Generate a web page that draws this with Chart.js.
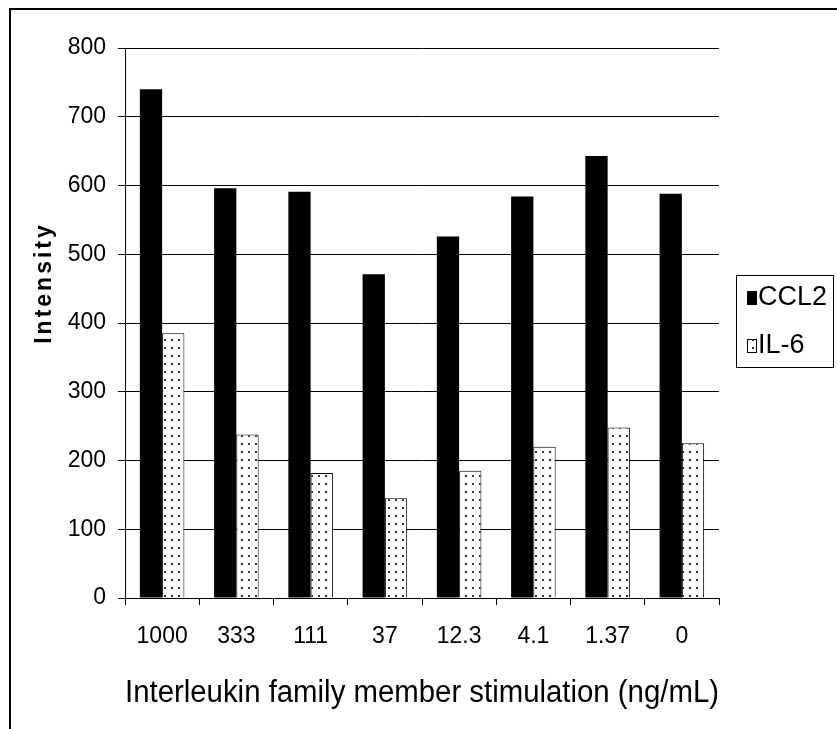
<!DOCTYPE html>
<html>
<head>
<meta charset="utf-8">
<script src="https://cdn.jsdelivr.net/npm/chart.js@4.4.1/dist/chart.umd.min.js"></script>
<style>
html,body{margin:0;padding:0;background:#fff;}
#wrap{position:relative;width:837px;height:729px;}
canvas{display:block;}
</style>
</head>
<body>
<div id="wrap"><canvas id="c" width="837" height="729"></canvas></div>
<script>
// ---- data ----
const categories = ['1000', '333', '111', '37', '12.3', '4.1', '1.37', '0'];
const ccl2Values = [740, 596, 591, 471, 526, 584, 643, 588];
const il6Values = [385, 238, 182, 145, 185, 220, 248, 225];
const seriesNames = ['CCL2', 'IL-6'];
const yMin = 0, yMax = 800, yStep = 100;
const xTitle = 'Interleukin family member stimulation (ng/mL)';
const yTitle = 'Intensity';

// dotted fill pattern for IL-6
function makeDots() {
  const c = document.createElement('canvas');
  c.width = 7; c.height = 8;
  const g = c.getContext('2d');
  g.fillStyle = '#fff'; g.fillRect(0, 0, 7, 8);
  g.fillStyle = '#333'; g.fillRect(3, 3, 2, 2);
  return g.createPattern(c, 'repeat');
}
const ctx = document.getElementById('c').getContext('2d');
const dots = makeDots();

const framePlugin = {
  id: 'frame',
  beforeDraw(chart) {
    const c = chart.ctx;
    c.save();
    c.fillStyle = '#fff';
    c.fillRect(0, 0, chart.width, chart.height);
    c.strokeStyle = '#000';
    c.lineWidth = 2;
    c.beginPath();
    c.moveTo(10, chart.height);
    c.lineTo(10, 9);
    c.lineTo(chart.width, 9);
    c.stroke();
    c.restore();
    // letter-spaced y axis title, shifted up as in the reference
    const s = chart.scales.y;
    if (s && !s.__patched) {
      const orig = s.drawTitle;
      s.drawTitle = function () {
        const k = this.ctx;
        k.save();
        k.letterSpacing = '3px';
        k.translate(0, -40);
        orig.call(this);
        k.restore();
      };
      s.__patched = true;
    }
  }
};

const legendPlugin = {
  id: 'boxLegend',
  afterDraw(chart) {
    const c = chart.ctx;
    const a = chart.chartArea;
    const mid = (a.top + a.bottom) / 2;
    const bx = Math.round(a.right + 17), by = Math.round(mid - 48);
    c.save();
    c.strokeStyle = '#000';
    c.lineWidth = 1;
    c.strokeRect(bx + 0.5, by + 0.5, 97, 92);
    chart.data.datasets.forEach((ds, i) => {
      const cy = by + 23 + i * 48;
      c.fillStyle = ds.backgroundColor;
      c.fillRect(bx + 11, cy - 7, 10, 14);
      if (ds.borderWidth) {
        c.strokeStyle = '#000';
        c.strokeRect(bx + 11.5, cy - 6.5, 9, 13);
      }
      c.fillStyle = '#000';
      c.font = '27px "Liberation Sans", Arial, sans-serif';
      c.textBaseline = 'middle';
      c.textAlign = 'left';
      c.fillText(ds.label, bx + 22, cy);
    });
    c.restore();
  }
};

const tickFont = { family: '"Liberation Sans", Arial, sans-serif', size: 23 };

new Chart(ctx, {
  type: 'bar',
  data: {
    labels: categories,
    datasets: [
      { label: seriesNames[0], data: ccl2Values, backgroundColor: '#000', borderWidth: 0 },
      { label: seriesNames[1], data: il6Values, backgroundColor: dots, borderColor: '#000', borderWidth: 1 }
    ]
  },
  options: {
    responsive: false,
    animation: false,
    devicePixelRatio: 1,
    layout: { padding: { top: 48, right: 118, left: 0, bottom: 0 } },
    datasets: { bar: { barPercentage: 1, categoryPercentage: 0.6 } },
    plugins: { legend: { display: false }, tooltip: { enabled: false }, title: { display: false } },
    scales: {
      x: {
        grid: { offset: true, drawOnChartArea: false, drawTicks: true, tickLength: 7, color: '#000', lineWidth: 1 },
        border: { color: '#000', width: 1 },
        ticks: { color: '#000', font: tickFont, padding: 18, maxRotation: 0, autoSkip: false },
        title: { display: true, text: xTitle, color: '#000',
                 font: { family: '"Liberation Sans", Arial, sans-serif', size: 31 }, padding: { top: 0, bottom: 17 } },
        afterFit: (s) => { s.height = 131; }
      },
      y: {
        min: yMin, max: yMax,
        ticks: { stepSize: yStep, color: '#000', font: tickFont, padding: 12 },
        grid: { color: '#000', lineWidth: 1, tickLength: 7 },
        border: { color: '#000', width: 1 },
        title: { display: true, text: yTitle, color: '#000',
                 font: { family: '"Liberation Sans", Arial, sans-serif', size: 23, weight: 'bold' }, padding: { top: 31, bottom: 0 } },
        afterFit: (s) => { s.width = 125; }
      }
    }
  },
  plugins: [framePlugin, legendPlugin]
});
</script>
</body>
</html>
